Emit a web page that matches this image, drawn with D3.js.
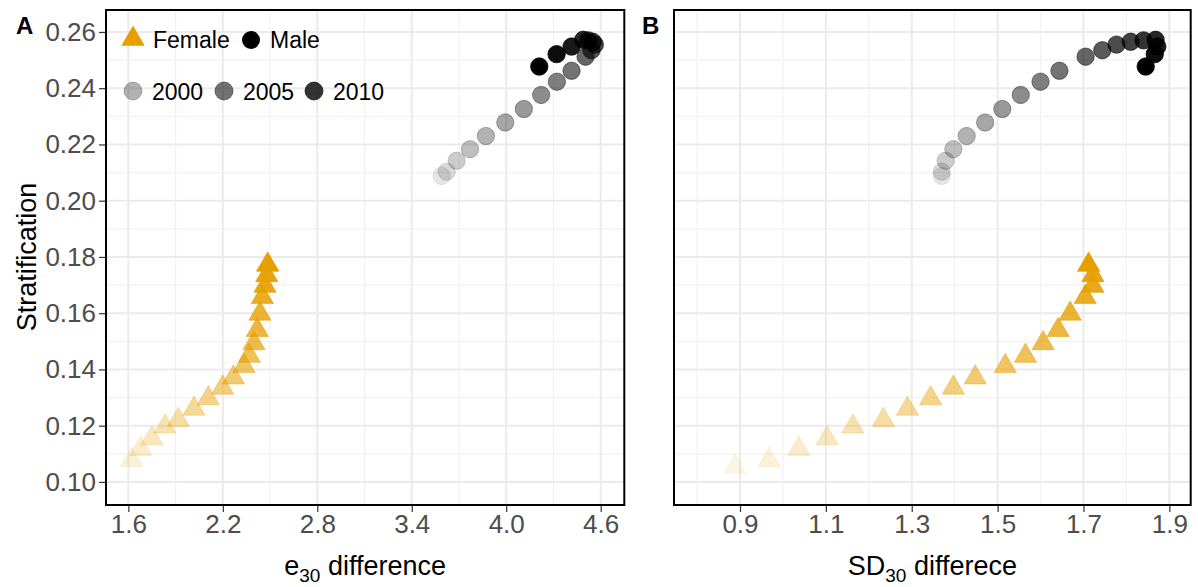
<!DOCTYPE html>
<html>
<head>
<meta charset="utf-8">
<script src="https://cdn.jsdelivr.net/npm/d3@7"></script>
<style>
body { margin: 0; background: #fff; }
text { font-family: "Liberation Sans", Arial, sans-serif; }
</style>
</head>
<body>
<svg id="chart" width="1198" height="587"></svg>
<script>
// data, one entry per year
var years = [1996,1997,1998,1999,2000,2001,2002,2003,2004,2005,2006,2007,2008,2009,2010,2011,2012,2013,2014];

var femaleStrat = [0.1054,0.1078,0.1117,0.1155,0.1197,0.1220,0.1260,0.1297,0.1335,0.1371,0.1412,0.1448,0.1493,0.1540,0.1598,0.1657,0.1697,0.1735,0.1772];
var femaleE30   = [null,1.622,1.679,1.749,1.833,1.917,2.017,2.108,2.199,2.267,2.335,2.368,2.398,2.419,2.436,2.451,2.468,2.479,2.485];
var femaleSD30  = [0.888,0.968,1.037,1.103,1.163,1.234,1.290,1.344,1.397,1.448,1.518,1.565,1.606,1.641,1.669,1.704,1.722,1.722,1.712];

var maleStrat = [0.2088,0.2103,0.2142,0.2183,0.2230,0.2278,0.2326,0.2376,0.2423,0.2462,0.2512,0.2535,0.2555,0.2565,0.2570,0.2572,0.2548,0.2521,0.2477];
var maleE30   = [3.590,3.622,3.685,3.770,3.871,3.994,4.112,4.222,4.322,4.415,4.504,4.542,4.563,4.550,4.520,4.489,4.415,4.320,4.210];
var maleSD30  = [1.370,1.370,1.379,1.397,1.428,1.471,1.511,1.554,1.600,1.644,1.705,1.744,1.777,1.810,1.840,1.868,1.872,1.866,1.845];

var yTicks  = [0.10,0.12,0.14,0.16,0.18,0.20,0.22,0.24,0.26];
var xTicksA = [1.6,2.2,2.8,3.4,4.0,4.6];
var xTicksB = [0.9,1.1,1.3,1.5,1.7,1.9];
var legendYears = [2000,2005,2010];

var orange = "#E69F00";
var svg = d3.select("#chart");

var top_ = 10, bottom_ = 505;
var y = d3.scaleLinear().domain([0.0918, 0.2678]).range([bottom_, top_]);
var alpha = d3.scaleLinear().domain([1996, 2014]).range([0.1, 1]);

var panels = [
	{ label: "A", left: 106, right: 624.3, domain: [1.458, 4.75], ticks: xTicksA, fem: femaleE30, male: maleE30, showY: true, title: "e", sub: "30", rest: " difference" },
	{ label: "B", left: 674, right: 1190.7, domain: [0.7463, 1.9498], ticks: xTicksB, fem: femaleSD30, male: maleSD30, showY: false, title: "SD", sub: "30", rest: " differece" }
];

function midpoints(t)
{
	var m = [];
	for (var i = 0; i < t.length - 1; i++) m.push((t[i] + t[i + 1]) / 2);
	m.push(t[0] - (t[1] - t[0]) / 2);
	m.push(t[t.length - 1] + (t[1] - t[0]) / 2);
	return m;
}

var tri = d3.symbol().type(d3.symbolTriangle).size(215);

panels.forEach(function(p)
{
	var x = d3.scaleLinear().domain(p.domain).range([p.left, p.right]);
	var g = svg.append("g");

	// grid
	var xMinor = midpoints(p.ticks).filter(function(v){ return v > p.domain[0] && v < p.domain[1]; });
	var yMinor = midpoints(yTicks).filter(function(v){ return v > y.domain()[0] && v < y.domain()[1]; });
	g.selectAll(".vminor").data(xMinor).enter().append("line")
		.attr("x1", x).attr("x2", x).attr("y1", top_).attr("y2", bottom_)
		.attr("stroke", "#f2f2f2").attr("stroke-width", 1.2);
	g.selectAll(".hminor").data(yMinor).enter().append("line")
		.attr("x1", p.left).attr("x2", p.right).attr("y1", y).attr("y2", y)
		.attr("stroke", "#f2f2f2").attr("stroke-width", 1.2);
	g.selectAll(".vmajor").data(p.ticks).enter().append("line")
		.attr("x1", x).attr("x2", x).attr("y1", top_).attr("y2", bottom_)
		.attr("stroke", "#ebebeb").attr("stroke-width", 2);
	g.selectAll(".hmajor").data(yTicks).enter().append("line")
		.attr("x1", p.left).attr("x2", p.right).attr("y1", y).attr("y2", y)
		.attr("stroke", "#ebebeb").attr("stroke-width", 2);

	// female triangles
	var fem = years.map(function(yr, i){ return { year: yr, x: p.fem[i], y: femaleStrat[i] }; })
		.filter(function(d){ return d.x != null; });
	g.selectAll(".fem").data(fem).enter().append("path")
		.attr("d", tri)
		.attr("transform", function(d){ return "translate(" + x(d.x) + "," + y(d.y) + ")"; })
		.attr("fill", orange).attr("fill-opacity", function(d){ return alpha(d.year); })
		.attr("stroke", orange).attr("stroke-opacity", function(d){ return alpha(d.year); })
		.attr("stroke-width", 0.7);

	// male circles
	var male = years.map(function(yr, i){ return { year: yr, x: p.male[i], y: maleStrat[i] }; });
	g.selectAll(".male").data(male).enter().append("circle")
		.attr("cx", function(d){ return x(d.x); })
		.attr("cy", function(d){ return y(d.y); })
		.attr("r", 8.7)
		.attr("fill", "#000").attr("fill-opacity", function(d){ return alpha(d.year); })
		.attr("stroke", "#000").attr("stroke-opacity", function(d){ return alpha(d.year); })
		.attr("stroke-width", 0.8);

	// border
	g.append("rect").attr("x", p.left).attr("y", top_)
		.attr("width", p.right - p.left).attr("height", bottom_ - top_)
		.attr("fill", "none").attr("stroke", "#000").attr("stroke-width", 2);

	// x axis
	var ax = g.append("g").attr("transform", "translate(0," + (bottom_ + 1) + ")")
		.call(d3.axisBottom(x).tickValues(p.ticks).tickSize(6).tickPadding(3).tickFormat(d3.format(".1f")));
	ax.select(".domain").remove();
	ax.selectAll("line").attr("stroke", "#333").attr("stroke-width", 1.2);
	ax.selectAll("text").attr("fill", "#4d4d4d").style("font-size", "26px");

	if (p.showY)
	{
		var ay = g.append("g").attr("transform", "translate(" + (p.left - 1) + ",0)")
			.call(d3.axisLeft(y).tickValues(yTicks).tickSize(6).tickPadding(3).tickFormat(d3.format(".2f")));
		ay.select(".domain").remove();
		ay.selectAll("line").attr("stroke", "#333").attr("stroke-width", 1.2);
		ay.selectAll("text").attr("fill", "#4d4d4d").style("font-size", "26px");
	}

	// x title
	var t = svg.append("text").attr("x", (p.left + p.right) / 2).attr("y", 575)
		.attr("text-anchor", "middle").style("font-size", "27px").attr("fill", "#000");
	t.append("tspan").text(p.title);
	t.append("tspan").attr("dy", 7).style("font-size", "19px").text(p.sub);
	t.append("tspan").attr("dy", -7).text(p.rest);

	// panel tag
	svg.append("text").attr("x", p.showY ? 16 : 642).attr("y", 34)
		.style("font-size", "24px").style("font-weight", "bold").text(p.label);
});

// y title
svg.append("text").attr("transform", "translate(36,257) rotate(-90)")
	.attr("text-anchor", "middle").style("font-size", "27px").text("Stratification");

// legend
var lg = svg.append("g");
lg.append("path").attr("d", d3.symbol().type(d3.symbolTriangle).size(240))
	.attr("transform", "translate(133,39)").attr("fill", orange);
lg.append("text").attr("x", 153).attr("y", 48).style("font-size", "23px").text("Female");
lg.append("circle").attr("cx", 251).attr("cy", 40).attr("r", 9).attr("fill", "#000");
lg.append("text").attr("x", 270).attr("y", 48).style("font-size", "23px").text("Male");

var lx = [133, 224, 314];
lg.selectAll(".ly").data(legendYears).enter().append("circle")
	.attr("cx", function(d, i){ return lx[i]; }).attr("cy", 91).attr("r", 9)
	.attr("fill", "#000").attr("fill-opacity", function(d){ return alpha(d); })
	.attr("stroke", "#000").attr("stroke-opacity", function(d){ return alpha(d); }).attr("stroke-width", 0.8);
lg.selectAll(".lt").data(legendYears).enter().append("text")
	.attr("x", function(d, i){ return lx[i] + 19; }).attr("y", 100)
	.style("font-size", "23px").text(function(d){ return d; });
</script>
</body>
</html>
